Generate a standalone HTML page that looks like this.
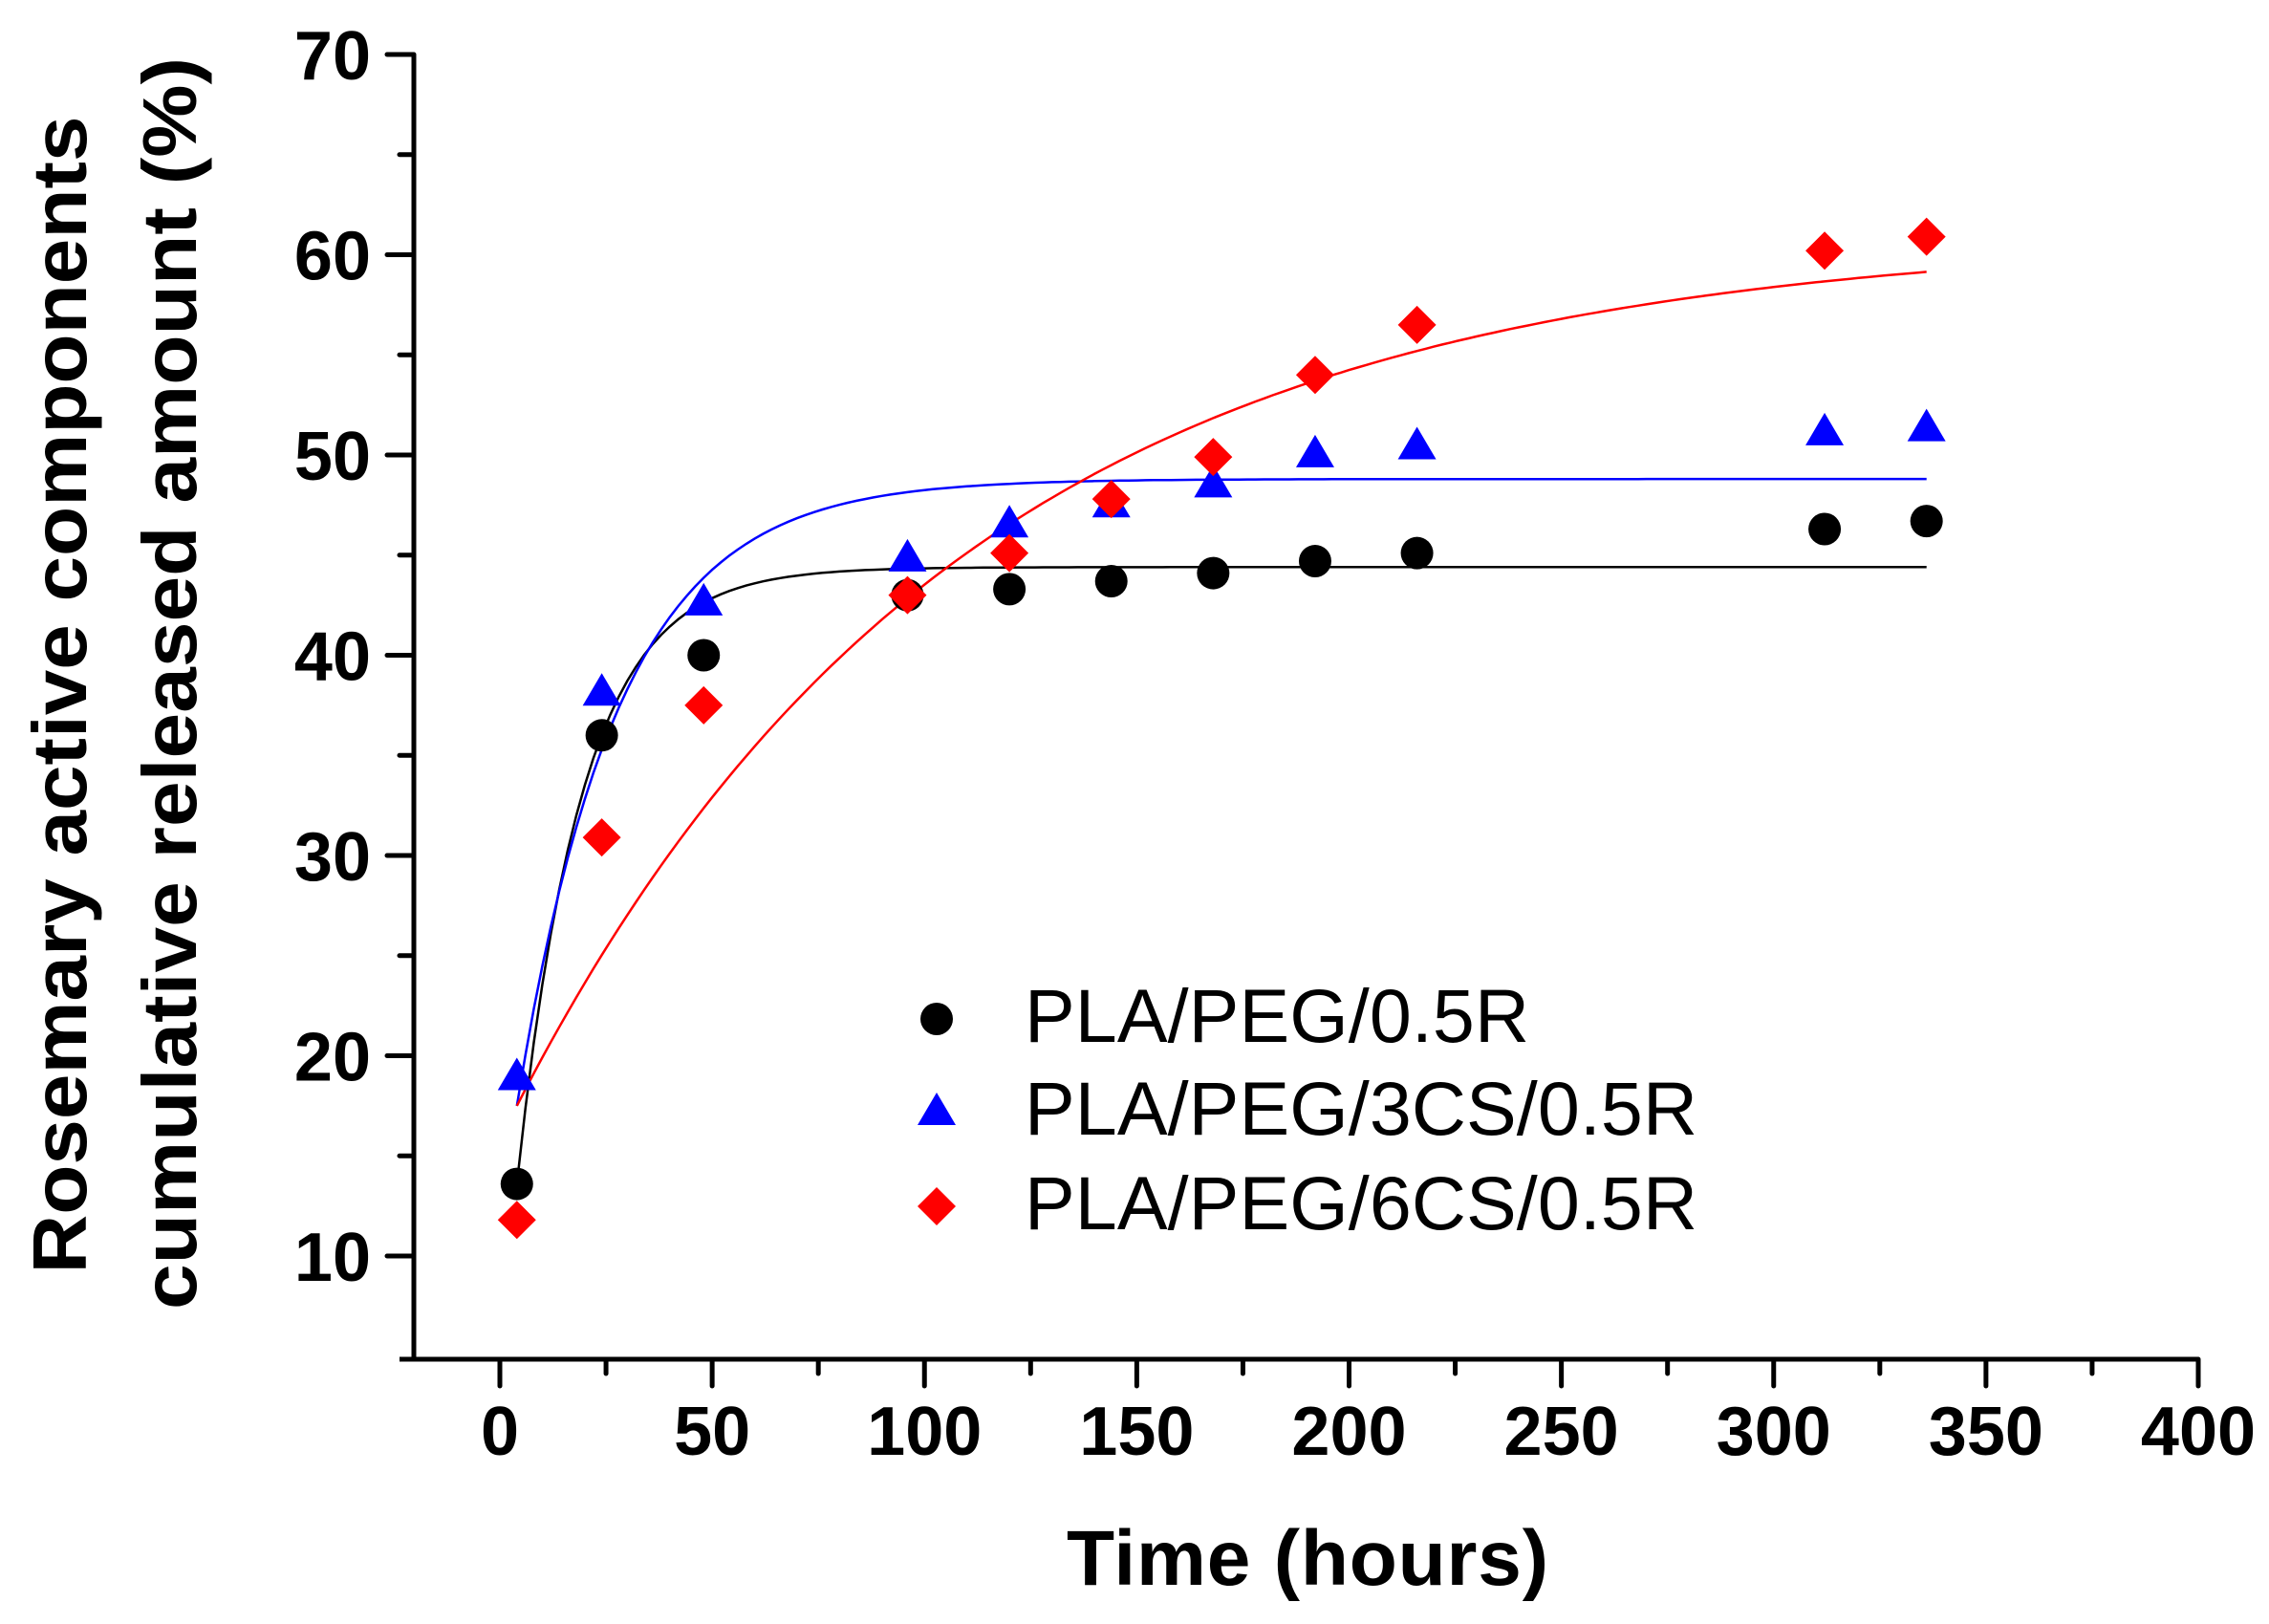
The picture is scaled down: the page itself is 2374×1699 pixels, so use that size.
<!DOCTYPE html>
<html><head><meta charset="utf-8"><style>html,body{margin:0;padding:0;background:#fff}svg{display:block}</style></head>
<body>
<svg id="s" xmlns="http://www.w3.org/2000/svg" width="2374" height="1699" viewBox="0 0 2374 1699" font-family="Liberation Sans, sans-serif">
<g id="g"></g>
<text x="1368" y="1658" font-size="82" font-weight="bold" text-anchor="middle" textLength="504">Time (hours)</text>
<text transform="translate(90,727) rotate(-90)" font-size="80" font-weight="bold" text-anchor="middle" textLength="1211" lengthAdjust="spacingAndGlyphs">Rosemary active components</text>
<text transform="translate(205,715) rotate(-90)" font-size="80" font-weight="bold" text-anchor="middle" textLength="1310" lengthAdjust="spacingAndGlyphs">cumulative released amount (%)</text>
<g font-size="79">
<text x="1072" y="1090" textLength="528">PLA/PEG/0.5R</text>
<text x="1072" y="1187" textLength="704">PLA/PEG/3CS/0.5R</text>
<text x="1072" y="1286" textLength="704">PLA/PEG/6CS/0.5R</text>
</g>
</svg>
<script>
const X=t=>523+t*4.4425, Y=v=>57+(70-v)*20.95;
let h='';
h+=`<path d="M433 57 V1422 M418 1422 H2300" stroke="#000" stroke-width="5" fill="none"/>`;
for(let v=10;v<=70;v+=5){const y=Y(v),L=v%10==0?28:15;h+=`<line x1="${433-L}" y1="${y}" x2="433" y2="${y}" stroke="#000" stroke-width="5" stroke-linecap="round"/>`;
 if(v%10==0)h+=`<text x="388" y="${y+26}" font-size="72" font-weight="bold" text-anchor="end">${v}</text>`;}
for(let t=0;t<=400;t+=25){const x=X(t),L=t%50==0?28:15;h+=`<line x1="${x}" y1="1422" x2="${x}" y2="${1422+L}" stroke="#000" stroke-width="5" stroke-linecap="round"/>`;
 if(t%50==0)h+=`<text x="${x}" y="1522" font-size="72" font-weight="bold" text-anchor="middle">${t}</text>`;}
function curve(A,y0,k,c){let d='';for(let t=4;t<=336;t+=2){const v=A-(A-y0)*Math.exp(-k*(t-4));d+=(t==4?'M':'L')+X(t).toFixed(1)+' '+Y(v).toFixed(1);}return `<path d="${d}" stroke="${c}" stroke-width="2.5" fill="none"/>`;}
h+=curve(44.4,13.6,0.065,'#000');h+=curve(48.8,17.5,0.042,'#00f');h+=curve(61,17.5,0.0095,'#f00');
const T=[4,24,48,96,120,144,168,192,216,312,336];
const B=[13.6,36,40,43,43.3,43.7,44.1,44.7,45.1,46.3,46.7];
const Bl=[19,38.2,42.7,44.9,46.6,47.6,48.6,50.1,50.5,51.2,51.4];
const R=[11.8,30.9,37.5,43,45.1,47.8,49.9,54,56.5,60.2,60.9];
const circ=(x,y)=>`<circle cx="${x}" cy="${y}" r="17" fill="#000"/>`;
const tri=(x,y)=>`<path d="M${x} ${y-19} L${x+20} ${y+15} L${x-20} ${y+15}Z" fill="#00f"/>`;
const dia=(x,y)=>`<path d="M${x} ${y-20} L${x+20} ${y} L${x} ${y+20} L${x-20} ${y}Z" fill="#f00"/>`;
T.forEach((t,i)=>{h+=circ(X(t),Y(B[i]));});
T.forEach((t,i)=>{h+=tri(X(t),Y(Bl[i]));});
T.forEach((t,i)=>{h+=dia(X(t),Y(R[i]));});
h+=circ(980,1066)+tri(980,1162)+dia(980,1262);
document.getElementById('g').innerHTML=h;
</script>
</body></html>
